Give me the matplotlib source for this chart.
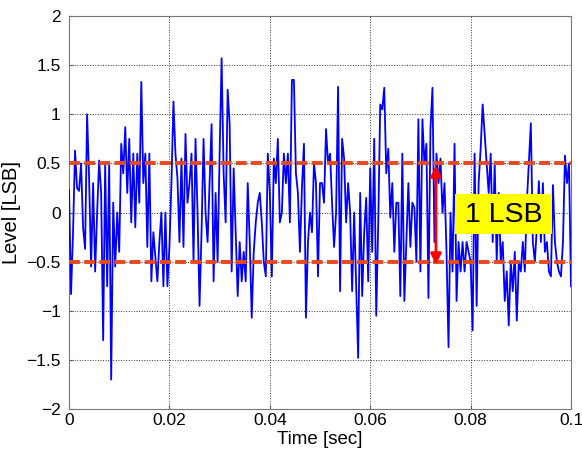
import numpy as np
import matplotlib
matplotlib.use("Agg")
import matplotlib.pyplot as plt
from matplotlib.patches import Rectangle

plt.rcParams['font.family'] = ['Liberation Sans', 'DejaVu Sans']

# sampled noise level (LSB), one value every 0.4 ms
level = [
    0.23, -0.83, -0.2, 0.63, 0.25, 0.22, 0.5, -0.15, -0.37, 1.0,
    0.35, -0.55, 0.3, -0.6, 0.0, 0.53, 0.2, -1.3, 0.5, -0.75,
    0.5, -1.7, 0.1, -0.55, 0.0, -0.4, 0.7, 0.4, 0.87, 0.2,
    0.75, -0.1, 0.6, -0.15, 0.6, 0.1, 1.33, 0.3, 0.6, -0.35,
    0.6, -0.7, -0.2, -0.45, -0.7, -0.3, 0.0, -0.75, 0.0, -0.75,
    -0.35, 0.3, 1.13, 0.6, 0.35, -0.3, 0.55, -0.35, 0.8, 0.1,
    0.3, 0.6, -0.5, 0.75, 0.0, -0.95, -0.2, 0.75, 0.0, -0.3,
    0.3, 0.9, -0.7, 0.2, -0.5, 0.6, 1.57, 0.4, -0.1, 1.25,
    0.9, -0.6, 0.45, -0.2, -0.85, -0.3, -0.7, -0.4, -0.7, 0.3,
    -0.3, -1.07, -0.4, -0.1, 0.1, 0.2, -0.1, -0.5, -0.65, 0.6,
    0.2, -0.65, 0.55, 0.3, 0.75, -0.1, 0.0, 0.6, 0.3, 0.6,
    -0.1, 1.35, 1.35, 0.4, 0.2, -0.4, 0.25, 0.7, -1.07, -0.3,
    0.0, -0.2, 0.5, 0.3, -0.65, 0.3, 0.3, 0.1, 0.85, 0.5,
    0.6, 0.1, -0.35, 0.0, 1.28, -0.8, 0.75, 0.55, -0.1, 0.3,
    0.0, -0.8, 0.0, -0.75, -1.48, 0.2, -0.85, -0.2, 0.15, -0.7,
    0.45, -0.4, 0.75, -1.05, -0.1, 1.1, 1.05, 1.27, 0.4, 0.65,
    -0.05, 0.3, -0.4, 0.1, 0.1, -0.85, 0.6, -0.9, -0.3, 0.3,
    -0.35, 0.1, 0.05, -0.5, 0.95, -0.6, 0.95, 0.5, 0.7, -0.87,
    0.85, 1.27, -0.3, 0.6, 0.3, 0.55, 0.0, 0.3, -0.4, -1.37,
    0.0, -0.6, 0.7, -0.9, -0.3, -0.6, -0.3, -0.6, -0.3, -0.4,
    -0.5, -1.2, 0.6, -0.95, 0.3, 0.65, 1.1, 0.8, 0.5, 0.2,
    0.6, -0.3, 0.5, -0.5, 0.2, -0.5, -0.3, -0.9, -0.6, -1.15,
    -0.5, -0.8, -0.4, -1.1, -0.5, -0.6, -0.3, -0.6, 0.1, 0.5,
    0.91, -0.3, -0.5, -0.15, 0.32, -0.3, 0.3, -0.4, -0.3, -0.6,
    -0.65, 0.28, -0.3, -0.5, -0.6, -0.65, -0.3, 0.58, 0.3, 0.5,
    -0.75,
]
dt = 0.0004
time = np.arange(len(level)) * dt

lsb_lines = [0.5, -0.5]
xticks = [0, 0.02, 0.04, 0.06, 0.08, 0.1]
xticklabels = ['0', '0.02', '0.04', '0.06', '0.08', '0.1']
yticks = [-2, -1.5, -1, -0.5, 0, 0.5, 1, 1.5, 2]
yticklabels = ['\u22122', '\u22121.5', '\u22121', '\u22120.5', '0', '0.5', '1', '1.5', '2']

fig = plt.figure(figsize=(5.82, 4.59), dpi=100)
ax = fig.add_axes([0.1186, 0.1089, 0.8625, 0.856])

ax.plot(time, level, color='#0000ff', lw=1.3, zorder=3)
for y in lsb_lines:
    ax.axhline(y, color='#e8481c', lw=2.8, ls=(0, (2.8, 1.1)), zorder=4)

# 1 LSB arrow and label
ax.annotate('', xy=(0.0731, -0.53), xytext=(0.0731, 0.48),
            arrowprops=dict(arrowstyle='<|-|>', color='#ff0000', lw=2.0,
                            mutation_scale=16, shrinkA=0, shrinkB=0),
            zorder=5)
ax.add_patch(Rectangle((0.0769, -0.22), 0.0193, 0.41, facecolor='#ffff00',
                       edgecolor='none', zorder=6))
ax.text(0.08655, -0.02, '1 LSB', fontsize=20.5, ha='center', va='center',
        color='black', zorder=7)

ax.set_xlim(0, 0.1)
ax.set_ylim(-2, 2)
ax.set_xticks(xticks)
ax.set_xticklabels(xticklabels)
ax.set_yticks(yticks)
ax.set_yticklabels(yticklabels)
ax.tick_params(direction='in', length=3, labelsize=12.5, color='#555555')
ax.tick_params(axis='y', pad=6)
ax.tick_params(axis='x', pad=3)
ax.grid(True, ls=':', color='#333333', lw=0.7)
for s in ax.spines.values():
    s.set_color('#777777')
    s.set_linewidth(0.8)

ax.set_xlabel('Time [sec]', fontsize=13.5, labelpad=2)
ax.set_ylabel('Level [LSB]', fontsize=14.5, labelpad=4)

fig.savefig('out.png', dpi=100)
